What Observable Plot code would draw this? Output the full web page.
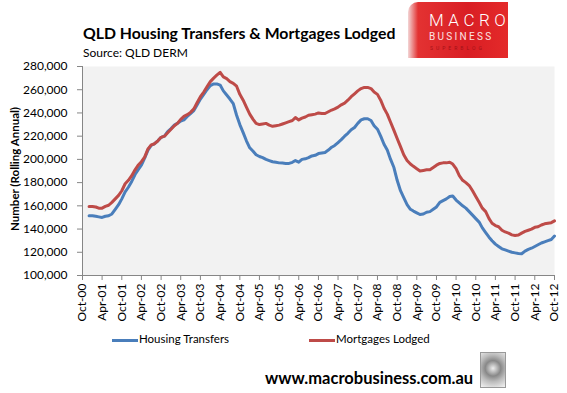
<!DOCTYPE html>
<html>
<head>
<meta charset="utf-8">
<script src="https://cdn.jsdelivr.net/npm/d3@7"></script>
<script src="https://cdn.jsdelivr.net/npm/@observablehq/plot@0.6"></script>
<style>
  body { margin: 0; background: #fff; }
  #wrap { position: relative; width: 567px; height: 393px; overflow: hidden; font-family: Lato, "Open Sans", sans-serif; color: #000; }
  #wrap svg { position: absolute; left: 0; top: 0; }
  .abs { position: absolute; white-space: nowrap; }
</style>
</head>
<body>
<div id="wrap">
  <div class="abs" id="title" style="left:83px; top:23px; font-weight:bold; font-size:15.8px;">QLD Housing Transfers &amp; Mortgages Lodged</div>
  <div class="abs" id="sub" style="left:83px; top:45px; font-size:12px;">Source: QLD DERM</div>
  <div class="abs" id="logo" style="left:408px; top:2px; width:100px; height:56px; border-top-left-radius:10px; background:linear-gradient(90deg,#f3d6d6 0px,#e33232 10px,#d91e24 60%,#e42a2a 100%);">
    <div class="abs" style="left:21px; top:8px; font-family:Roboto, sans-serif; font-weight:300; font-size:17px; letter-spacing:4.5px; color:#fff;">MACRO</div>
    <div class="abs" style="left:21px; top:29px; font-family:Roboto, sans-serif; font-size:10px; letter-spacing:2.3px; color:#fbe3e3;">BUSINESS</div>
    <div class="abs" style="left:22px; top:43px; font-family:Roboto, sans-serif; font-size:5px; letter-spacing:3px; color:#a31218;">SUPERBLOG</div>
  </div>
  <div class="abs" id="legend" style="left:0; top:332px; width:567px; height:16px; font-size:11.5px;">
    <div class="abs" style="left:112px; top:7px; width:26px; height:3px; background:#4a7ebb;"></div>
    <div class="abs" style="left:139px; top:0px;">Housing Transfers</div>
    <div class="abs" style="left:309px; top:7px; width:26px; height:3px; background:#be4b48;"></div>
    <div class="abs" style="left:336px; top:0px;">Mortgages Lodged</div>
  </div>
  <div class="abs" id="footer" style="left:265px; top:368px; font-weight:bold; font-size:16.5px;">www.macrobusiness.com.au</div>
  <div class="abs" id="wolf" style="left:480px; top:352px; width:24px; height:34px; border:1px solid #999; background:radial-gradient(circle at 50% 45%, #eee 0%, #888 35%, #bbb 60%, #f4f4f4 100%);"></div>
</div>
<script>
// Tick labels and categories
const xTickLabels = ["Oct-00","Apr-01","Oct-01","Apr-02","Oct-02","Apr-03","Oct-03","Apr-04","Oct-04","Apr-05","Oct-05","Apr-06","Oct-06","Apr-07","Oct-07","Apr-08","Oct-08","Apr-09","Oct-09","Apr-10","Oct-10","Apr-11","Oct-11","Apr-12","Oct-12"];
const yTicks = [100000,120000,140000,160000,180000,200000,220000,240000,260000,280000];
const yTitle = "Number (Rolling Annual)";
const seriesNames = ["Housing Transfers","Mortgages Lodged"];
const seriesColors = ["#4a7ebb","#be4b48"];
const firstMonth = "Dec-00";

// Monthly rolling annual values (thousands), Dec-00 .. Oct-12
const housingTransfers = [
151.5,151.5,151,150.5,150,151,151.5,153,157,161,166,172,176,181,187,191,195,201,208,212,
213.5,216,219,220,224,226.5,229.5,231,233,234,237,239.5,242,247,252,256,260,263.5,265,265,
264,259,255.5,252,248,238,230,223,216,210,207,204,202.5,201.5,200,199,198,197.5,197,196.8,
196.5,196.5,197.5,199,197.6,200,200.5,201.5,203,203.5,205,205.5,206,208,210.5,212,214.5,217,220,222.5,
225.5,227.5,231,234,235,235,233.5,229,226,220,213,208,200,193,182,173,167,161,157,155.5,
154,152.5,153,154.5,155,157,159,163,164.5,166,168,168.5,165,162.5,160,158,155,152,149,146,
141,137,133,130,127,125,123,122,121,120,119.5,119,118.7,121,122.5,123.5,125,126.5,128,129,
130,131,134];
const mortgagesLodged = [
159.5,159.5,159,158,158,159.5,160.5,163,166,169,173,179,182,186,191,195,198,202,209,212.5,
213.5,216,219,220,223,226,229,231,234.5,237,238.5,240.5,243.5,249,254,258,262.5,267,270,272.5,
275,271,269.5,267,265.5,263,256,251,245,239,234.5,231,230,230.5,231,229.5,228.5,229,229.5,230.5,
231.5,232.5,233.5,236,234,235.5,236.5,238,238.5,239,240,239.5,239.5,241,242.5,243.5,245,247,248.5,251,
254,256.5,259,261,262,262,261,258,256,251,244,239,232,225,218,211,204,199,196,194,
192,190,190.5,191,191,193,195,196.5,197,197,197.5,196,192,186,182,180,177.5,173,168,163,
158,155,149,145,143,142,139,137.5,136.5,135,134.5,134.8,136.5,138,139,140,141.5,142,143.5,144.5,
145,145.5,147];

const parseM = d3.utcParse("%b-%y");
const start = parseM(firstMonth);
const toRows = (vals, name) => vals.map((v, i) => ({date: d3.utcMonth.offset(start, i), value: v * 1000, series: name}));
const rows = [...toRows(housingTransfers, seriesNames[0]), ...toRows(mortgagesLodged, seriesNames[1])];
const xTicks = xTickLabels.map(parseM);
const fmtX = d3.utcFormat("%b-%y");

const chart = Plot.plot({
  width: 567,
  height: 393,
  marginTop: 66,
  marginBottom: 118,
  marginLeft: 82,
  marginRight: 13,
  style: {fontFamily: "Lato, 'Open Sans', sans-serif", fontSize: "12px", color: "#000", background: "transparent", overflow: "visible"},
  x: {type: "utc", domain: [xTicks[0], xTicks[xTicks.length - 1]]},
  y: {domain: [yTicks[0], yTicks[yTicks.length - 1]]},
  color: {domain: seriesNames, range: seriesColors},
  marks: [
    Plot.frame({fill: "#f2f2f2", stroke: null}),
    Plot.axisY({ticks: yTicks, tickFormat: d3.format(","), tickSize: 5, tickPadding: 10, label: null, stroke: "#868686", fill: "#000"}),
    Plot.axisX({ticks: xTicks, tickFormat: fmtX, tickRotate: -90, tickSize: 5, tickPadding: 3, label: null, stroke: "#868686", fill: "#000"}),
    Plot.ruleX([xTicks[0]], {stroke: "#868686"}),
    Plot.ruleY([yTicks[0]], {stroke: "#868686"}),
    Plot.line(rows, {x: "date", y: "value", z: "series", stroke: "series", strokeWidth: 3, strokeLinejoin: "round", strokeLinecap: "round"})
  ]
});
d3.select(chart).append("text")
  .attr("transform", "translate(15,169) rotate(-90)")
  .attr("text-anchor", "middle")
  .attr("dy", "0.35em")
  .attr("font-weight", "bold")
  .attr("font-size", "11.5px")
  .attr("fill", "#000")
  .text(yTitle);
document.getElementById("wrap").prepend(chart);
</script>
</body>
</html>
